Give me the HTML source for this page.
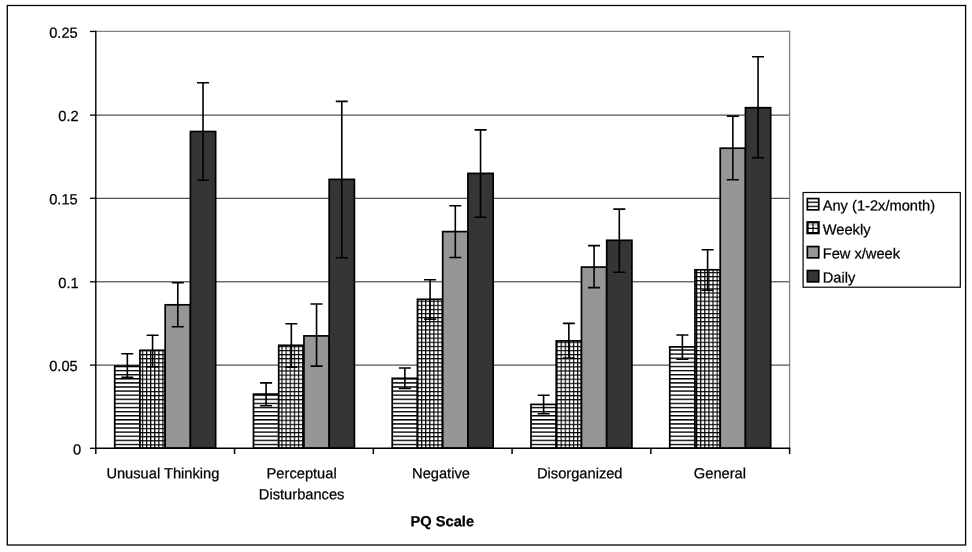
<!DOCTYPE html>
<html><head><meta charset="utf-8"><title>PQ Scale chart</title>
<style>html,body{margin:0;padding:0;background:#fff}svg{display:block}text{stroke:#000;stroke-width:.25px;font-family:"Liberation Sans",sans-serif;font-size:14.67px;fill:#000}</style>
</head><body>
<svg width="972" height="552" viewBox="0 0 972 552">
<defs>
<pattern id="ph" patternUnits="userSpaceOnUse" x="0" y="0.42" width="4.105" height="4.105"><rect width="4.105" height="4.105" fill="#fff"/><rect x="0" y="0" width="4.105" height="1.4" fill="#000"/></pattern>
<pattern id="pg" patternUnits="userSpaceOnUse" x="2.31" y="1.00" width="4.105" height="4.105"><rect width="4.105" height="4.105" fill="#fff"/><rect x="0" y="0" width="4.105" height="1.15" fill="#000"/><rect x="0" y="0" width="1.15" height="4.105" fill="#000"/></pattern>
</defs>
<rect width="972" height="552" fill="#fff"/>
<rect x="7.3" y="5.5" width="958.3" height="539.5" fill="none" stroke="#000" stroke-width="1.3"/>
<line x1="95.8" y1="365.10" x2="789.6" y2="365.10" stroke="#000" stroke-width="0.85"/>
<line x1="95.8" y1="281.80" x2="789.6" y2="281.80" stroke="#000" stroke-width="0.85"/>
<line x1="95.8" y1="198.30" x2="789.6" y2="198.30" stroke="#000" stroke-width="0.85"/>
<line x1="95.8" y1="115.10" x2="789.6" y2="115.10" stroke="#000" stroke-width="0.85"/>
<line x1="95.8" y1="31.45" x2="790.2" y2="31.45" stroke="#808080" stroke-width="1.3"/>
<line x1="789.6" y1="30.8" x2="789.6" y2="448.3" stroke="#808080" stroke-width="1.3"/>
<rect x="114.72" y="366.10" width="25.23" height="82.00" fill="url(#ph)" stroke="#000" stroke-width="1.7"/>
<rect x="139.95" y="350.30" width="25.23" height="97.80" fill="url(#pg)" stroke="#000" stroke-width="1.7"/>
<rect x="165.18" y="304.80" width="25.23" height="143.30" fill="#969696" stroke="#000" stroke-width="1.7"/>
<rect x="190.41" y="131.50" width="25.23" height="316.60" fill="#353535" stroke="#000" stroke-width="1.7"/>
<rect x="253.48" y="394.10" width="25.23" height="54.00" fill="url(#ph)" stroke="#000" stroke-width="1.7"/>
<rect x="278.71" y="345.30" width="25.23" height="102.80" fill="url(#pg)" stroke="#000" stroke-width="1.7"/>
<rect x="303.94" y="335.90" width="25.23" height="112.20" fill="#969696" stroke="#000" stroke-width="1.7"/>
<rect x="329.17" y="179.40" width="25.23" height="268.70" fill="#353535" stroke="#000" stroke-width="1.7"/>
<rect x="392.24" y="378.30" width="25.23" height="69.80" fill="url(#ph)" stroke="#000" stroke-width="1.7"/>
<rect x="417.47" y="299.30" width="25.23" height="148.80" fill="url(#pg)" stroke="#000" stroke-width="1.7"/>
<rect x="442.70" y="231.60" width="25.23" height="216.50" fill="#969696" stroke="#000" stroke-width="1.7"/>
<rect x="467.93" y="173.40" width="25.23" height="274.70" fill="#353535" stroke="#000" stroke-width="1.7"/>
<rect x="531.00" y="404.40" width="25.23" height="43.70" fill="url(#ph)" stroke="#000" stroke-width="1.7"/>
<rect x="556.23" y="340.90" width="25.23" height="107.20" fill="url(#pg)" stroke="#000" stroke-width="1.7"/>
<rect x="581.46" y="267.10" width="25.23" height="181.00" fill="#969696" stroke="#000" stroke-width="1.7"/>
<rect x="606.69" y="240.30" width="25.23" height="207.80" fill="#353535" stroke="#000" stroke-width="1.7"/>
<rect x="669.76" y="346.90" width="25.23" height="101.20" fill="url(#ph)" stroke="#000" stroke-width="1.7"/>
<rect x="694.99" y="269.80" width="25.23" height="178.30" fill="url(#pg)" stroke="#000" stroke-width="1.7"/>
<rect x="720.22" y="148.20" width="25.23" height="299.90" fill="#969696" stroke="#000" stroke-width="1.7"/>
<rect x="745.45" y="107.70" width="25.23" height="340.40" fill="#353535" stroke="#000" stroke-width="1.7"/>
<path d="M127.34 353.70V377.40M121.34 353.70h12M121.34 377.40h12" fill="none" stroke="#000" stroke-width="1.6"/>
<path d="M152.57 335.20V366.70M146.57 335.20h12M146.57 366.70h12" fill="none" stroke="#000" stroke-width="1.6"/>
<path d="M177.79 282.80V326.70M171.79 282.80h12M171.79 326.70h12" fill="none" stroke="#000" stroke-width="1.6"/>
<path d="M203.02 82.80V180.20M197.02 82.80h12M197.02 180.20h12" fill="none" stroke="#000" stroke-width="1.6"/>
<path d="M266.10 382.90V405.70M260.10 382.90h12M260.10 405.70h12" fill="none" stroke="#000" stroke-width="1.6"/>
<path d="M291.33 323.70V367.10M285.33 323.70h12M285.33 367.10h12" fill="none" stroke="#000" stroke-width="1.6"/>
<path d="M316.55 304.00V366.10M310.55 304.00h12M310.55 366.10h12" fill="none" stroke="#000" stroke-width="1.6"/>
<path d="M341.78 101.40V257.70M335.78 101.40h12M335.78 257.70h12" fill="none" stroke="#000" stroke-width="1.6"/>
<path d="M404.86 368.00V388.50M398.86 368.00h12M398.86 388.50h12" fill="none" stroke="#000" stroke-width="1.6"/>
<path d="M430.09 279.70V319.30M424.09 279.70h12M424.09 319.30h12" fill="none" stroke="#000" stroke-width="1.6"/>
<path d="M455.31 205.70V257.50M449.31 205.70h12M449.31 257.50h12" fill="none" stroke="#000" stroke-width="1.6"/>
<path d="M480.54 129.90V217.30M474.54 129.90h12M474.54 217.30h12" fill="none" stroke="#000" stroke-width="1.6"/>
<path d="M543.62 395.20V413.80M537.62 395.20h12M537.62 413.80h12" fill="none" stroke="#000" stroke-width="1.6"/>
<path d="M568.85 323.40V358.00M562.85 323.40h12M562.85 358.00h12" fill="none" stroke="#000" stroke-width="1.6"/>
<path d="M594.07 245.60V287.60M588.07 245.60h12M588.07 287.60h12" fill="none" stroke="#000" stroke-width="1.6"/>
<path d="M619.30 209.10V272.30M613.30 209.10h12M613.30 272.30h12" fill="none" stroke="#000" stroke-width="1.6"/>
<path d="M682.38 335.00V359.20M676.38 335.00h12M676.38 359.20h12" fill="none" stroke="#000" stroke-width="1.6"/>
<path d="M707.61 249.70V290.30M701.61 249.70h12M701.61 290.30h12" fill="none" stroke="#000" stroke-width="1.6"/>
<path d="M732.83 116.10V179.80M726.83 116.10h12M726.83 179.80h12" fill="none" stroke="#000" stroke-width="1.6"/>
<path d="M758.06 56.80V157.80M752.06 56.80h12M752.06 157.80h12" fill="none" stroke="#000" stroke-width="1.6"/>
<path d="M95.8 30.7V449.0M95.1 448.3H790.3" fill="none" stroke="#000" stroke-width="1.4"/>
<line x1="90.0" y1="448.30" x2="95.8" y2="448.30" stroke="#000" stroke-width="1.3"/>
<text x="81.20" y="454.40" text-anchor="end" transform="rotate(0.03 81.20 454.40)">0</text>
<line x1="90.0" y1="365.10" x2="95.8" y2="365.10" stroke="#000" stroke-width="1.3"/>
<text x="77.70" y="371.00" text-anchor="end" transform="rotate(0.03 77.70 371.00)">0.05</text>
<line x1="90.0" y1="281.80" x2="95.8" y2="281.80" stroke="#000" stroke-width="1.3"/>
<text x="78.70" y="288.00" text-anchor="end" transform="rotate(0.03 78.70 288.00)">0.1</text>
<line x1="90.0" y1="198.30" x2="95.8" y2="198.30" stroke="#000" stroke-width="1.3"/>
<text x="77.70" y="204.30" text-anchor="end" transform="rotate(0.03 77.70 204.30)">0.15</text>
<line x1="90.0" y1="115.10" x2="95.8" y2="115.10" stroke="#000" stroke-width="1.3"/>
<text x="78.70" y="121.00" text-anchor="end" transform="rotate(0.03 78.70 121.00)">0.2</text>
<line x1="90.0" y1="31.45" x2="95.8" y2="31.45" stroke="#000" stroke-width="1.3"/>
<text x="77.70" y="37.85" text-anchor="end" transform="rotate(0.03 77.70 37.85)">0.25</text>
<line x1="95.80" y1="448.3" x2="95.80" y2="454.1" stroke="#000" stroke-width="1.5"/>
<line x1="234.56" y1="448.3" x2="234.56" y2="454.1" stroke="#000" stroke-width="1.5"/>
<line x1="373.32" y1="448.3" x2="373.32" y2="454.1" stroke="#000" stroke-width="1.5"/>
<line x1="512.08" y1="448.3" x2="512.08" y2="454.1" stroke="#000" stroke-width="1.5"/>
<line x1="650.84" y1="448.3" x2="650.84" y2="454.1" stroke="#000" stroke-width="1.5"/>
<line x1="789.60" y1="448.3" x2="789.60" y2="454.1" stroke="#000" stroke-width="1.5"/>
<text x="162.88" y="478.35" text-anchor="middle" transform="rotate(0.03 162.88 478.35)">Unusual Thinking</text>
<text x="301.64" y="478.35" text-anchor="middle" transform="rotate(0.03 301.64 478.35)">Perceptual</text>
<text x="301.64" y="499.25" text-anchor="middle" transform="rotate(0.03 301.64 499.25)">Disturbances</text>
<text x="441.00" y="478.35" text-anchor="middle" transform="rotate(0.03 441.00 478.35)">Negative</text>
<text x="579.76" y="478.35" text-anchor="middle" transform="rotate(0.03 579.76 478.35)">Disorganized</text>
<text x="719.92" y="478.35" text-anchor="middle" transform="rotate(0.03 719.92 478.35)">General</text>
<text x="442.30" y="526.35" text-anchor="middle" font-weight="bold" stroke-width="0.08" transform="rotate(0.03 442.30 526.35)">PQ Scale</text>
<rect x="803.1" y="192.5" width="157.2" height="94.7" fill="#fff" stroke="#000" stroke-width="1.2"/>
<rect x="807.35" y="198.55" width="11.4" height="11.3" fill="url(#ph)" stroke="#000" stroke-width="1.7"/>
<text x="822.70" y="210.55" transform="rotate(0.03 822.70 210.55)">Any (1-2x/month)</text>
<rect x="807.5" y="222.25" width="11.1" height="10.9" fill="#fff" stroke="#000" stroke-width="2.3"/>
<path d="M813 222.25v11M807.5 228.30h11" stroke="#000" stroke-width="1.2" fill="none"/>
<path d="M807.5 224.85h11" stroke="#000" stroke-opacity=".3" stroke-width="1.2" fill="none"/>
<text x="822.70" y="234.55" transform="rotate(0.03 822.70 234.55)">Weekly</text>
<rect x="807.35" y="246.55" width="11.4" height="11.3" fill="#969696" stroke="#000" stroke-width="1.7"/>
<text x="822.70" y="258.55" transform="rotate(0.03 822.70 258.55)">Few x/week</text>
<rect x="807.35" y="270.55" width="11.4" height="11.3" fill="#353535" stroke="#000" stroke-width="1.7"/>
<text x="822.70" y="282.55" transform="rotate(0.03 822.70 282.55)">Daily</text>
</svg>
</body></html>
